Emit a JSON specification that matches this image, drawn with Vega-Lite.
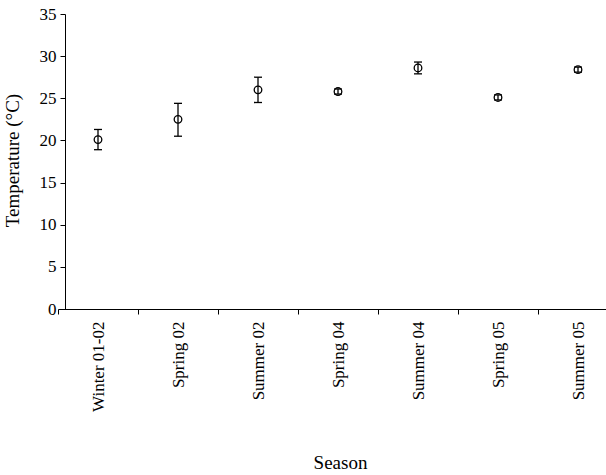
{
  "$schema": "https://vega.github.io/schema/vega-lite/v6.json",
  "width": 541,
  "height": 295,
  "autosize": "none",
  "padding": {"left": 65, "top": 14, "right": 0, "bottom": 166},
  "background": "white",
  "config": {
    "view": {"stroke": null},
    "font": "Liberation Serif, DejaVu Serif, serif",
    "axis": {
      "domainColor": "black",
      "tickColor": "black",
      "labelColor": "black",
      "titleColor": "black",
      "labelFont": "Liberation Serif, DejaVu Serif, serif",
      "titleFont": "Liberation Serif, DejaVu Serif, serif",
      "labelFontSize": 17,
      "titleFontSize": 19,
      "titleFontWeight": "normal",
      "grid": false,
      "tickSize": 5,
      "domainWidth": 1,
      "tickWidth": 1
    }
  },
  "data": {
    "values": [
      {"season": "Winter 01-02", "mean": 20.1, "lo": 18.9, "hi": 21.3},
      {"season": "Spring 02", "mean": 22.5, "lo": 20.5, "hi": 24.4},
      {"season": "Summer 02", "mean": 26.0, "lo": 24.5, "hi": 27.5},
      {"season": "Spring 04", "mean": 25.8, "lo": 25.5, "hi": 26.1},
      {"season": "Summer 04", "mean": 28.6, "lo": 27.9, "hi": 29.3},
      {"season": "Spring 05", "mean": 25.1, "lo": 24.8, "hi": 25.4},
      {"season": "Summer 05", "mean": 28.4, "lo": 28.1, "hi": 28.7}
    ]
  },
  "encoding": {
    "x": {
      "field": "season",
      "type": "nominal",
      "sort": null,
      "scale": {"type": "band", "range": [-7, 553], "paddingInner": 0, "paddingOuter": 0},
      "axis": {
        "title": "Season",
        "labelAngle": -90,
        "labelAlign": "right",
        "labelBaseline": "middle",
        "labelPadding": 7,
        "tickBand": "extent",
        "titleX": 275,
        "titleY": 159,
        "titleAlign": "center",
        "titleBaseline": "alphabetic"
      }
    }
  },
  "layer": [
    {
      "mark": {"type": "point", "shape": "circle", "filled": false, "stroke": "black", "strokeWidth": 1.3, "size": 58, "opacity": 1},
      "encoding": {"y": {"field": "mean", "type": "quantitative", "scale": {"domain": [0, 35], "nice": false, "zero": true},
          "axis": {
            "title": "Temperature (°C)",
            "values": [0, 5, 10, 15, 20, 25, 30, 35],
            "labelPadding": 4,
            "titleAngle": -90,
            "titleX": -47,
            "titleY": 146,
            "titleAlign": "center",
            "titleBaseline": "alphabetic"
          }}}
    },
    {
      "mark": {"type": "rule", "color": "black", "strokeWidth": 1.3},
      "encoding": {
        "y": {"field": "lo", "type": "quantitative"},
        "y2": {"field": "hi"}
      }
    },
    {
      "mark": {"type": "tick", "color": "black", "size": 8, "thickness": 1.3, "opacity": 1},
      "encoding": {"y": {"field": "lo", "type": "quantitative"}}
    },
    {
      "mark": {"type": "tick", "color": "black", "size": 8, "thickness": 1.3, "opacity": 1},
      "encoding": {"y": {"field": "hi", "type": "quantitative"}}
    }
  ]
}
